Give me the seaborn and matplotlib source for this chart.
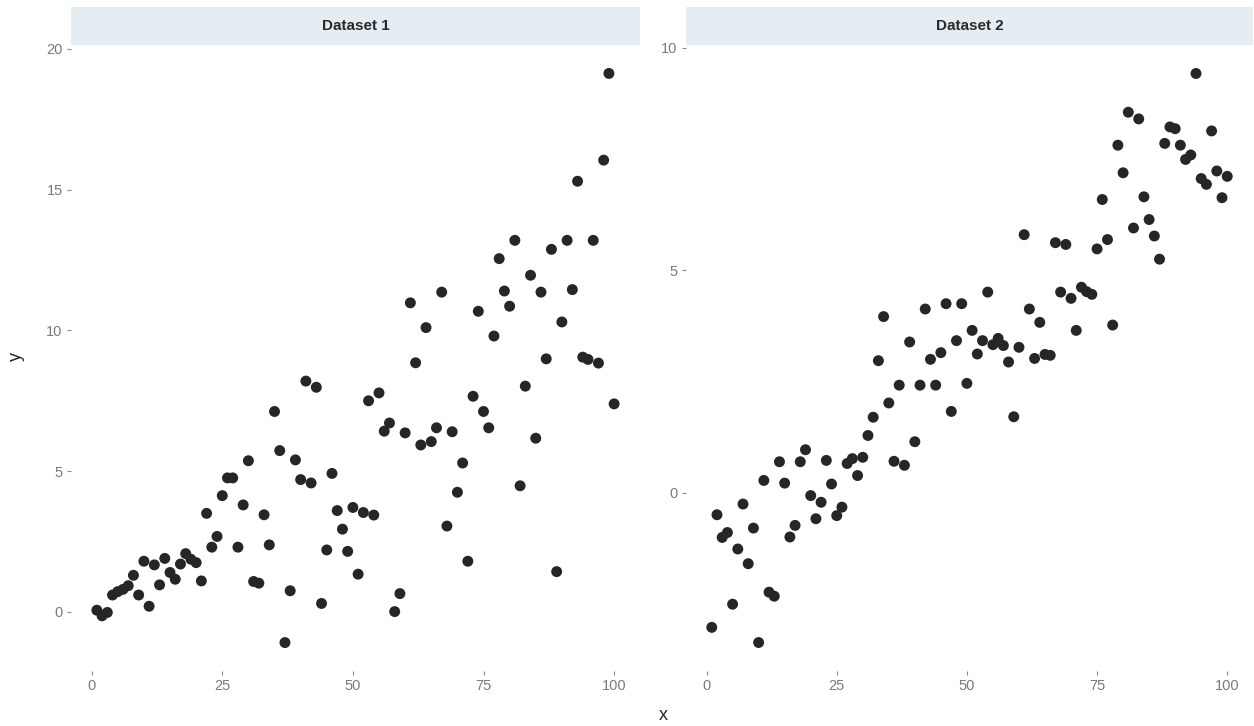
import numpy as np
import pandas as pd
import matplotlib
matplotlib.use("Agg")
import matplotlib.pyplot as plt
import seaborn as sns
from matplotlib.patches import Rectangle

# x positions shared by both datasets
x_vals = list(range(1, 101))

# values
dataset1_y = [
    0.06, -0.14, -0.02, 0.60, 0.72, 0.80, 0.93, 1.30, 0.60, 1.80,
    0.20, 1.67, 0.96, 1.90, 1.40, 1.16, 1.70, 2.07, 1.87, 1.75,
    1.10, 3.50, 2.30, 2.68, 4.13, 4.76, 4.76, 2.30, 3.80, 5.37,
    1.08, 1.02, 3.45, 2.38, 7.12, 5.73, -1.09, 0.75, 5.40, 4.70,
    8.20, 4.58, 7.98, 0.30, 2.20, 4.92, 3.60, 2.94, 2.15, 3.71,
    1.34, 3.53, 7.50, 3.44, 7.78, 6.42, 6.71, 0.01, 0.65, 6.36,
    10.98, 8.85, 5.93, 10.10, 6.05, 6.54, 11.36, 3.05, 6.40, 4.25,
    5.29, 1.80, 7.66, 10.68, 7.12, 6.54, 9.80, 12.55, 11.40, 10.86,
    13.20, 4.48, 8.02, 11.96, 6.17, 11.36, 8.99, 12.88, 1.43, 10.30,
    13.20, 11.45, 15.30, 9.05, 8.97, 13.20, 8.84, 16.05, 19.13, 7.39,
]

dataset2_y = [
    -3.02, -0.49, -1.00, -0.89, -2.50, -1.26, -0.25, -1.59, -0.79, -3.36,
    0.28, -2.23, -2.32, 0.70, 0.22, -0.99, -0.73, 0.70, 0.97, -0.06,
    -0.58, -0.21, 0.73, 0.20, -0.51, -0.32, 0.66, 0.77, 0.39, 0.80,
    1.29, 1.70, 2.97, 3.96, 2.02, 0.71, 2.42, 0.62, 3.39, 1.15,
    2.42, 4.13, 3.00, 2.42, 3.15, 4.25, 1.83, 3.42, 4.25, 2.46,
    3.65, 3.12, 3.42, 4.51, 3.33, 3.47, 3.31, 2.94, 1.71, 3.27,
    5.80, 4.13, 3.02, 3.83, 3.11, 3.09, 5.62, 4.51, 5.58, 4.37,
    3.65, 4.62, 4.52, 4.46, 5.48, 6.59, 5.69, 3.77, 7.81, 7.19,
    8.55, 5.95, 8.40, 6.65, 6.14, 5.77, 5.25, 7.85, 8.22, 8.18,
    7.81, 7.49, 7.59, 9.42, 7.06, 6.93, 8.13, 7.23, 6.63, 7.11,
]

panel_names = ["Dataset 1", "Dataset 2"]
x_ticks = [0, 25, 50, 75, 100]
y_ticks = [[0, 5, 10, 15, 20], [0, 5, 10]]

df = pd.concat([
    pd.DataFrame({"x": x_vals, "y": dataset1_y, "dataset": panel_names[0]}),
    pd.DataFrame({"x": x_vals, "y": dataset2_y, "dataset": panel_names[1]}),
])

sns.set_style("white")
plt.rcParams["font.family"] = ["Liberation Sans", "DejaVu Sans"]

g = sns.relplot(
    data=df, x="x", y="y", col="dataset", kind="scatter",
    color="#262626", s=62, edgecolor="none",
    facet_kws=dict(sharey=False, sharex=True),
)
fig = g.figure
fig.set_size_inches(12.54, 7.26)
fig.set_dpi(100)

W, H = 1254, 726
panels = [(71, 640), (686, 1253)]
top_px, bot_px = 45, 671
strip_h = 38

for ax, name, (l, r), yt in zip(g.axes.flat, panel_names, panels, y_ticks):
    ax.set_position([l / W, 1 - bot_px / H, (r - l) / W, (bot_px - top_px) / H])
    ax.set_xlim(-3.95, 104.95)
    ax.set_xticks(x_ticks)
    ax.set_yticks(yt)
    ax.set_title("")
    ax.set_xlabel("")
    ax.set_ylabel("")
    for sp in ax.spines.values():
        sp.set_visible(False)
    ax.grid(False)
    ax.tick_params(axis="both", length=3, width=0.8, color="#8a8a8a",
                   labelsize=10.5, labelcolor="#7a7a7a", pad=3)
    ax.tick_params(axis="x", bottom=True)
    ax.tick_params(axis="y", left=True)
    # facet strip
    frac = strip_h / (bot_px - top_px)
    ax.add_patch(Rectangle((0, 1.0), 1, frac, transform=ax.transAxes,
                           facecolor="#e5edf2", edgecolor="none", clip_on=False))
    ax.text(0.5, 1.0 + frac / 2, name, transform=ax.transAxes,
            ha="center", va="center", fontsize=11, color="#2a2a2a",
            fontweight="bold")

g.axes.flat[0].set_ylim(-2.1, 20.14)
g.axes.flat[1].set_ylim(-4.0, 10.06)

fig.text(663 / W, 1 - 716 / H, "x", ha="center", va="center",
         fontsize=13, color="#222222")
fig.text(16 / W, 1 - 356 / H, "y", ha="center", va="center",
         fontsize=13, color="#222222", rotation=90)

fig.savefig("out.png", dpi=100)
